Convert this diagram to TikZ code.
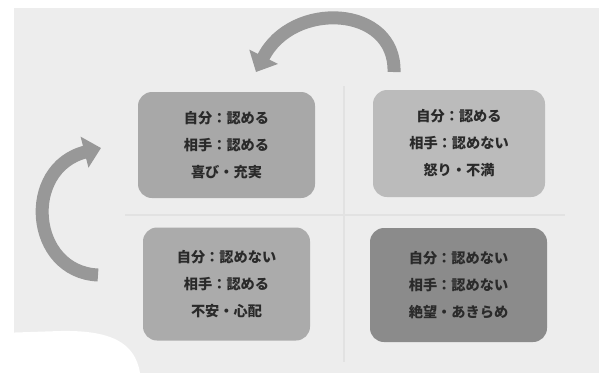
\documentclass[tikz,border=0pt]{standalone}
\usepackage{fontspec}
\newfontfamily\cjk{Noto Sans CJK JP}
\usetikzlibrary{arrows.meta}
\definecolor{bggray}{HTML}{EDEDED}
\definecolor{crossgray}{HTML}{E2E2E2}
\definecolor{arrowgray}{HTML}{989898}
\definecolor{qA}{HTML}{A8A8A8}
\definecolor{qB}{HTML}{BBBBBB}
\definecolor{qC}{HTML}{ABABAB}
\definecolor{qD}{HTML}{8B8B8B}
\definecolor{txt}{HTML}{2A2A2A}
\begin{document}
\begin{tikzpicture}[x=1pt,y=-1pt,
  quad/.style={draw=none, rounded corners=14pt, align=center, inner sep=0pt,
    font=\cjk\bfseries\fontsize{14.2}{27}\selectfont, text=txt},
  cyc/.style={line width=13pt, draw=arrowgray,
    -{Triangle[length=17pt,width=31pt]}}]
\useasboundingbox (0,0) rectangle (599,373);
\fill[white] (0,0) rectangle (599,373);
\fill[bggray] (14,8) rectangle (599,373);
\fill[white] (0,333) -- (60,331) .. controls (110,330) and (135,342) .. (140,373) -- (0,373) -- cycle;
% faint cross
\draw[crossgray, line width=2.5pt] (344,86) -- (344,362);
\draw[crossgray, line width=2.5pt] (125,215) -- (565,215);
% quadrants
\node[quad, fill=qA, minimum width=177pt, minimum height=106pt] (tl) at (226.5,145) {自分：認める\\相手：認める\\喜び・充実};
\node[quad, fill=qB, minimum width=172pt, minimum height=107pt] (tr) at (459,143.5) {自分：認める\\相手：認めない\\怒り・不満};
\node[quad, fill=qC, minimum width=167pt, minimum height=113pt] (bl) at (226.5,284) {自分：認めない\\相手：認める\\不安・心配};
\node[quad, fill=qD, minimum width=177pt, minimum height=114pt] (br) at (458.5,285) {自分：認めない\\相手：認めない\\絶望・あきらめ};
% arrows
\coordinate (trtail) at (394,72);
\coordinate (tlhead) at (256,72);
\coordinate (bltail) at (98,275);
\coordinate (tlhead2) at (101,148);
\draw[cyc] (trtail) .. controls (396,5) and (292,0) .. (tlhead);
\draw[cyc] (bltail) .. controls (30,272) and (22,168) .. (tlhead2);
\end{tikzpicture}
\end{document}
